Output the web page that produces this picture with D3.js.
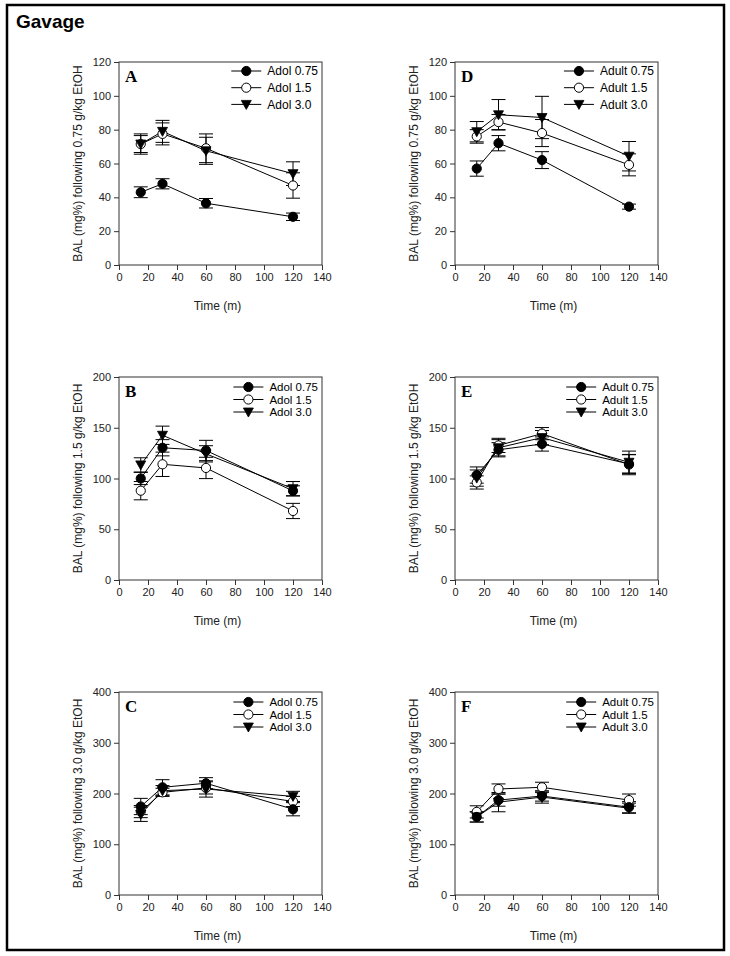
<!DOCTYPE html>
<html>
<head>
<meta charset="utf-8">
<script src="https://cdn.jsdelivr.net/npm/d3@7"></script>
<style>
  body { margin: 0; background: #fff; }
</style>
</head>
<body>
<svg id="chart" width="730" height="956" style="font-family: 'Liberation Sans', Arial, sans-serif;"></svg>
<script>
// ---------- DATA ----------
const times = [15, 30, 60, 120];
const xTicks = [0, 20, 40, 60, 80, 100, 120, 140];
const yTicks075 = [0, 20, 40, 60, 80, 100, 120];
const yTicks15 = [0, 50, 100, 150, 200];
const yTicks30 = [0, 100, 200, 300, 400];

const adolNames = ["Adol 0.75", "Adol 1.5", "Adol 3.0"];
const adultNames = ["Adult 0.75", "Adult 1.5", "Adult 3.0"];

// Panel A: Adolescent, 0.75 g/kg
const A_adol075 = [43, 48, 36.5, 28.5];
const A_adol075_err = [3.2, 3, 2.8, 2.2];
const A_adol15 = [71.5, 77.5, 69, 47];
const A_adol15_err = [5, 6.5, 8.5, 7.5];
const A_adol30 = [71.5, 79, 67.5, 54];
const A_adol30_err = [6, 6.5, 8, 7];

// Panel B: Adolescent, 1.5 g/kg
const B_adol075 = [100, 130.3, 127.6, 87.8];
const B_adol075_err = [6, 8, 10, 5];
const B_adol15 = [88, 114, 110.4, 68];
const B_adol15_err = [9, 12, 10.5, 7.5];
const B_adol30 = [113.4, 142.6, 124.3, 90];
const B_adol30_err = [7, 9, 8, 7];

// Panel C: Adolescent, 3.0 g/kg
const C_adol075 = [174.4, 212.2, 220.2, 169];
const C_adol075_err = [16, 15, 11, 13];
const C_adol15 = [164.4, 202.3, 211, 184.3];
const C_adol15_err = [12, 8, 12, 10];
const C_adol30 = [159, 205.6, 208.9, 194.3];
const C_adol30_err = [14, 10, 16, 10];

// Panel D: Adult, 0.75 g/kg
const D_adult075 = [57, 72, 62, 34.5];
const D_adult075_err = [4.5, 4.5, 5, 1.5];
const D_adult15 = [76, 84.5, 78, 59.2];
const D_adult15_err = [4, 4.5, 8, 6.5];
const D_adult30 = [78.8, 88.8, 87.2, 64.3];
const D_adult30_err = [6, 9, 12.5, 8.7];

// Panel E: Adult, 1.5 g/kg
const E_adult075 = [103.4, 128.3, 134, 114.4];
const E_adult075_err = [8, 7, 7, 9];
const E_adult15 = [96.1, 132.6, 144.2, 113.7];
const E_adult15_err = [6.5, 7, 6, 10];
const E_adult30 = [100.4, 130.3, 140.3, 116];
const E_adult30_err = [8, 8, 7, 11];

// Panel F: Adult, 3.0 g/kg
const F_adult075 = [153.8, 187, 195, 173];
const F_adult075_err = [10, 12, 10, 11];
const F_adult15 = [163.8, 208.9, 212.2, 187];
const F_adult15_err = [12, 10, 10, 12];
const F_adult30 = [153.8, 183, 193, 171];
const F_adult30_err = [10, 19, 12, 10];

// ---------- LAYOUT ----------
const svg = d3.select("#chart");
const W = 203, H = 203;
const colX = [119, 455];
const rowY = [62, 377, 692];

svg.append("rect").attr("x", 7).attr("y", 5).attr("width", 717).attr("height", 945)
  .attr("fill", "none").attr("stroke", "#000").attr("stroke-width", 2.5);
svg.append("text").attr("x", 16).attr("y", 28).text("Gavage")
  .attr("font-size", 19).attr("font-weight", "bold").attr("fill", "#000");

const panels = [
  { letter: "A", col: 0, row: 0, ymax: 120, yt: yTicks075, dose: "0.75", names: adolNames,
    series: [[A_adol075, A_adol075_err], [A_adol15, A_adol15_err], [A_adol30, A_adol30_err]] },
  { letter: "B", col: 0, row: 1, ymax: 200, yt: yTicks15, dose: "1.5", names: adolNames,
    series: [[B_adol075, B_adol075_err], [B_adol15, B_adol15_err], [B_adol30, B_adol30_err]] },
  { letter: "C", col: 0, row: 2, ymax: 400, yt: yTicks30, dose: "3.0", names: adolNames,
    series: [[C_adol075, C_adol075_err], [C_adol15, C_adol15_err], [C_adol30, C_adol30_err]] },
  { letter: "D", col: 1, row: 0, ymax: 120, yt: yTicks075, dose: "0.75", names: adultNames,
    series: [[D_adult075, D_adult075_err], [D_adult15, D_adult15_err], [D_adult30, D_adult30_err]] },
  { letter: "E", col: 1, row: 1, ymax: 200, yt: yTicks15, dose: "1.5", names: adultNames,
    series: [[E_adult075, E_adult075_err], [E_adult15, E_adult15_err], [E_adult30, E_adult30_err]] },
  { letter: "F", col: 1, row: 2, ymax: 400, yt: yTicks30, dose: "3.0", names: adultNames,
    series: [[F_adult075, F_adult075_err], [F_adult15, F_adult15_err], [F_adult30, F_adult30_err]] }
];

const triPath = "M-5,-4L5,-4L0,5Z";
function drawMarker(g, kind, x, y) {
  if (kind === 2) {
    g.append("path").attr("d", triPath).attr("transform", `translate(${x},${y})`)
      .attr("fill", "#000").attr("stroke", "#000").attr("stroke-width", 0.8);
  } else {
    g.append("circle").attr("cx", x).attr("cy", y).attr("r", 4.6)
      .attr("fill", kind === 0 ? "#000" : "#fff").attr("stroke", "#000").attr("stroke-width", 1);
  }
}

panels.forEach(p => {
  const left = colX[p.col], top = rowY[p.row];
  const g = svg.append("g").attr("transform", `translate(${left},${top})`);
  const x = d3.scaleLinear().domain([0, 140]).range([0, W]);
  const y = d3.scaleLinear().domain([0, p.ymax]).range([H, 0]);

  // axes
  const ya = g.append("g").call(d3.axisLeft(y).tickValues(p.yt).tickSize(5).tickPadding(3).tickFormat(d3.format("d")));
  const xa = g.append("g").attr("transform", `translate(0,${H})`)
    .call(d3.axisBottom(x).tickValues(xTicks).tickSize(5).tickPadding(3).tickFormat(d3.format("d")));
  [ya, xa].forEach(a => {
    a.attr("font-family", null);
    a.select(".domain").remove();
    a.selectAll("line").attr("stroke", "#333");
    a.selectAll("text").attr("font-size", 11).attr("fill", "#222");
  });
  ya.attr("font-size", 11); xa.attr("font-size", 11);
  g.append("rect").attr("x", 0).attr("y", 0).attr("width", W).attr("height", H)
    .attr("fill", "none").attr("stroke", "#333").attr("stroke-width", 1);

  // axis titles
  g.append("text").attr("transform", `translate(-37,${H / 2}) rotate(-90)`)
    .attr("text-anchor", "middle").attr("font-size", 12).attr("fill", "#222")
    .text(`BAL (mg%) following ${p.dose} g/kg EtOH`);
  g.append("text").attr("x", W / 2 - 3).attr("y", H + 45).attr("text-anchor", "middle")
    .attr("font-size", 12).attr("fill", "#222").text("Time (m)");

  // panel letter
  g.append("text").attr("x", 6).attr("y", 20).text(p.letter)
    .style("font-family", "'Liberation Serif', 'Times New Roman', serif")
    .attr("font-weight", "bold").attr("font-size", 17).attr("fill", "#000");

  // lines + error bars
  const line = d3.line().x((d, i) => x(times[i])).y(d => y(d));
  p.series.forEach(([vals, errs]) => {
    g.append("path").attr("d", line(vals)).attr("fill", "none").attr("stroke", "#000").attr("stroke-width", 1);
    vals.forEach((v, i) => {
      const cx = x(times[i]), y1 = y(v + errs[i]), y2 = y(v - errs[i]);
      g.append("line").attr("x1", cx).attr("x2", cx).attr("y1", y1).attr("y2", y2).attr("stroke", "#000");
      [y1, y2].forEach(yy => g.append("line").attr("x1", cx - 7).attr("x2", cx + 7)
        .attr("y1", yy).attr("y2", yy).attr("stroke", "#000"));
    });
  });
  // markers (open, filled, triangle)
  [1, 0, 2].forEach(k => {
    p.series[k][0].forEach((v, i) => drawMarker(g, k, x(times[i]), y(v)));
  });

  // legend
  const fs = p.row === 0 ? 12 : 11.5;
  const spacing = p.row === 0 ? 16.7 : 12.5;
  const first = p.row === 0 ? 9 : 10;
  const lg = g.append("g");
  const texts = p.names.map((n, i) => lg.append("text").attr("y", first + i * spacing).attr("dy", "0.35em")
    .attr("font-size", fs).attr("fill", "#000").text(n));
  const maxW = d3.max(texts, t => t.node().getComputedTextLength());
  const tx = W - 4 - maxW;
  texts.forEach(t => t.attr("x", tx));
  p.names.forEach((n, i) => {
    const yy = first + i * spacing;
    lg.append("line").attr("x1", tx - 36).attr("x2", tx - 6).attr("y1", yy).attr("y2", yy)
      .attr("stroke", "#000").attr("stroke-width", 1);
    drawMarker(lg, i, tx - 21, yy);
  });
});
</script>
</body>
</html>
